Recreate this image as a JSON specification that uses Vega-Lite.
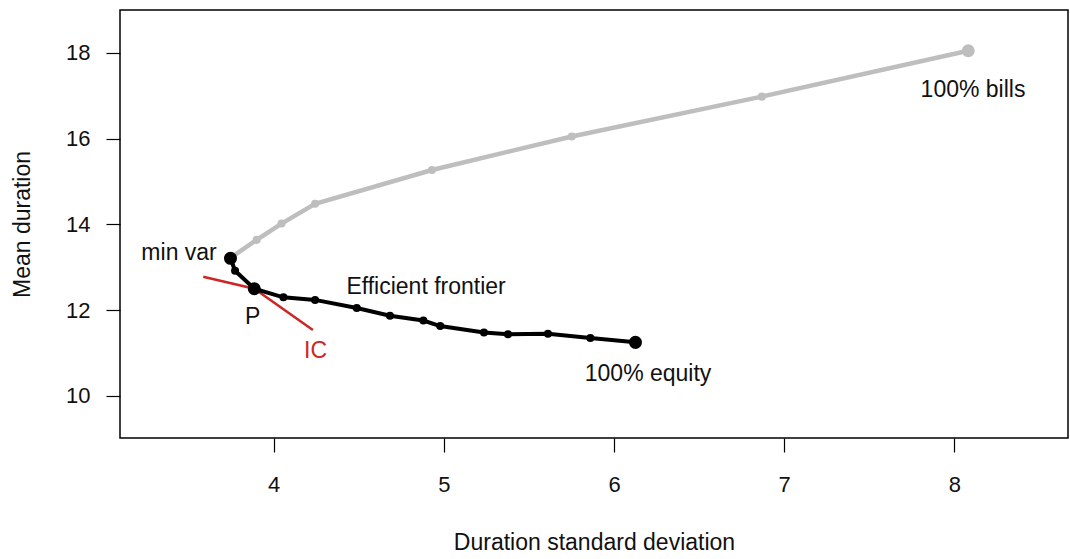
{
  "$schema": "https://vega.github.io/schema/vega-lite/v6.json",
  "width": 948,
  "height": 428,
  "autosize": {"type": "none"},
  "padding": {"left": 120, "top": 10, "right": 2, "bottom": 121},
  "background": "white",
  "config": {
    "view": {"stroke": "black", "strokeWidth": 1.5},
    "font": "Liberation Sans",
    "axis": {
      "grid": false,
      "domain": false,
      "tickColor": "black",
      "tickSize": 14,
      "tickWidth": 1.2,
      "labelFont": "Liberation Sans",
      "labelFontSize": 22,
      "labelColor": "#111",
      "titleFont": "Liberation Sans",
      "titleFontSize": 23,
      "titleFontWeight": "normal",
      "titleColor": "#111"
    }
  },
  "datasets": {
    "bills": [
      {"x": 3.747, "y": 13.22, "kind": "step"},
      {"x": 3.901, "y": 13.64, "kind": "step"},
      {"x": 4.047, "y": 14.02, "kind": "step"},
      {"x": 4.244, "y": 14.48, "kind": "step"},
      {"x": 4.931, "y": 15.27, "kind": "step"},
      {"x": 5.752, "y": 16.05, "kind": "step"},
      {"x": 6.868, "y": 16.98, "kind": "step"},
      {"x": 8.081, "y": 18.05, "kind": "end"}
    ],
    "frontier": [
      {"x": 3.747, "y": 13.21, "kind": "end"},
      {"x": 3.774, "y": 12.92, "kind": "step"},
      {"x": 3.887, "y": 12.5, "kind": "end"},
      {"x": 4.058, "y": 12.3, "kind": "step"},
      {"x": 4.244, "y": 12.24, "kind": "step"},
      {"x": 4.489, "y": 12.05, "kind": "step"},
      {"x": 4.684, "y": 11.87, "kind": "step"},
      {"x": 4.88, "y": 11.76, "kind": "step"},
      {"x": 4.979, "y": 11.63, "kind": "step"},
      {"x": 5.236, "y": 11.48, "kind": "step"},
      {"x": 5.377, "y": 11.44, "kind": "step"},
      {"x": 5.612, "y": 11.45, "kind": "step"},
      {"x": 5.861, "y": 11.35, "kind": "step"},
      {"x": 6.126, "y": 11.25, "kind": "end"}
    ],
    "ic": [
      {"x": 3.587, "y": 12.78},
      {"x": 3.887, "y": 12.5},
      {"x": 4.231, "y": 11.54}
    ],
    "labels": [
      {"x": 3.445, "y": 13.34, "label": "min var", "group": "black"},
      {"x": 3.878, "y": 11.85, "label": "P", "group": "black"},
      {"x": 4.247, "y": 11.06, "label": "IC", "group": "red"},
      {"x": 4.896, "y": 12.54, "label": "Efficient frontier", "group": "black"},
      {"x": 6.2, "y": 10.51, "label": "100% equity", "group": "black"},
      {"x": 8.109, "y": 17.14, "label": "100% bills", "group": "black"}
    ]
  },
  "encoding": {
    "x": {
      "field": "x",
      "type": "quantitative",
      "scale": {"domain": [3.098, 8.667], "nice": false, "zero": false},
      "axis": {"values": [4, 5, 6, 7, 8], "title": "Duration standard deviation", "labelPadding": 22, "titlePadding": 36}
    },
    "y": {
      "field": "y",
      "type": "quantitative",
      "scale": {"domain": [9.02, 19.0], "nice": false, "zero": false},
      "axis": {"values": [10, 12, 14, 16, 18], "title": "Mean duration", "labelPadding": 16, "titlePadding": 31, "labelAngle": 0}
    }
  },
  "layer": [
    {
      "data": {"name": "bills"},
      "mark": {"type": "line", "color": "#bebebe", "strokeWidth": 4.5}
    },
    {
      "data": {"name": "bills"},
      "mark": {"type": "point", "filled": true, "opacity": 1, "color": "#bebebe"},
      "encoding": {
        "size": {"field": "kind", "type": "nominal", "scale": {"domain": ["step", "end"], "range": [65, 170]}, "legend": null}
      }
    },
    {
      "data": {"name": "ic"},
      "mark": {"type": "line", "color": "#CD2626", "strokeWidth": 2.5}
    },
    {
      "data": {"name": "frontier"},
      "mark": {"type": "line", "color": "black", "strokeWidth": 4}
    },
    {
      "data": {"name": "frontier"},
      "mark": {"type": "point", "filled": true, "opacity": 1, "color": "black"},
      "encoding": {
        "size": {"field": "kind", "type": "nominal", "scale": {"domain": ["step", "end"], "range": [45, 150]}, "legend": null}
      }
    },
    {
      "data": {"name": "labels"},
      "mark": {"type": "text", "font": "Liberation Sans", "fontSize": 23, "align": "center", "baseline": "middle"},
      "encoding": {
        "text": {"field": "label"},
        "color": {"field": "group", "type": "nominal", "scale": {"domain": ["black", "red"], "range": ["#111111", "#CD2626"]}, "legend": null}
      }
    }
  ]
}
